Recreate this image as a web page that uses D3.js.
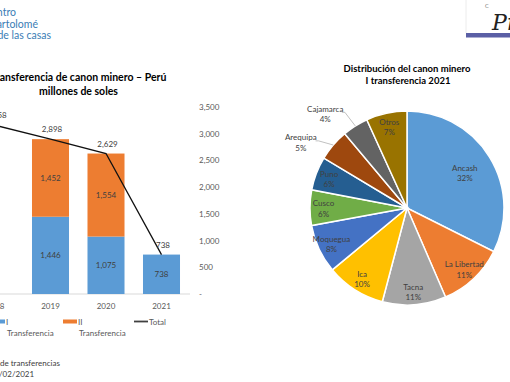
<!DOCTYPE html>
<html><head><meta charset="utf-8">
<script src="https://cdn.jsdelivr.net/npm/d3@7"></script>
<style>
html,body{margin:0;padding:0;background:#fff;}
svg{display:block;font-family:Lato,"Open Sans",sans-serif;}
</style></head>
<body>
<svg id="c" width="510" height="382"></svg>
<script>
// ---- data ----
const years = ["2018","2019","2020","2021"];
const transferI = [null, 1446, 1075, 738];
const transferII = [null, 1452, 1554, null];
const totals = [3158, 2898, 2629, 738];
const yTicks = [0,500,1000,1500,2000,2500,3000,3500];
const legendLabels = ["I\nTransferencia","II\nTransferencia","Total"];

const regions = ["Ancash","La Libertad","Tacna","Ica","Moquegua","Cusco","Puno","Arequipa","Cajamarca","Otros"];
const shares = [32.4, 11.1, 10.6, 9.9, 8.1, 5.9, 5.6, 5.3, 4.3, 6.8];
const regionColors = ["#5B9BD5","#ED7D31","#A5A5A5","#FFC000","#4472C4","#70AD47","#255E91","#9E480E","#636363","#997300"];
const outsideLabels = ["Arequipa","Cajamarca"];

const svg = d3.select("#c");
const txt = "#404040";

// ---- logos ----
const logo = svg.append("g").attr("fill","#3a7db5").attr("font-size",10.5).attr("text-anchor","end");
[["Centro",16,16],["Bartolomé",38,27.5],["de las casas",51,39]].forEach(([t,x,y])=>{
  logo.append("text").attr("x",x).attr("y",y).text(t);
});
svg.append("line").attr("x1",466).attr("x2",466).attr("y1",0).attr("y2",33).attr("stroke","#ececec");
svg.append("rect").attr("x",466).attr("y",33).attr("width",44).attr("height",4.5).attr("fill","#5a5fa5");
svg.append("text").attr("x",492).attr("y",30).attr("font-family","DejaVu Serif, serif").attr("font-style","italic")
  .attr("font-size",22).attr("fill","#222").text("Pr");
svg.append("text").attr("x",485).attr("y",8).attr("font-size",5.5).attr("fill","#777").text("C");

// ---- left chart ----
const left = svg.append("g");
left.append("text").attr("x",78.5).attr("y",81).attr("text-anchor","middle").attr("font-weight","bold")
  .attr("font-size",10.5).attr("fill","#000").text("Transferencia de canon minero – Perú");
left.append("text").attr("x",78.5).attr("y",95).attr("text-anchor","middle").attr("font-weight","bold")
  .attr("font-size",10.5).attr("fill","#000").text("millones de soles");

const x = d3.scaleBand().domain(years).range([-32.75,189.25]).paddingInner(0.333).paddingOuter(0.1665);
const y = d3.scaleLinear().domain([0,3500]).range([294,107]);

// axis baseline
left.append("line").attr("x1",0).attr("x2",190).attr("y1",y(0)).attr("y2",y(0)).attr("stroke","#d9d9d9");

// right value axis
const yAxis = d3.axisRight(y).tickValues(yTicks).tickSize(0).tickPadding(0)
  .tickFormat(v=> v===0 ? "-" : d3.format(",")(v));
const ya = left.append("g").attr("transform","translate(199,0)").call(yAxis);
ya.select(".domain").remove();
ya.selectAll("text").attr("font-family","Lato").attr("font-size",8).attr("fill","#595959");

// x axis labels
const xa = left.append("g").attr("transform",`translate(0,${y(0)})`)
  .call(d3.axisBottom(x).tickSize(0).tickPadding(9));
xa.select(".domain").remove();
xa.selectAll("text").attr("font-family","Lato").attr("font-size",8).attr("fill","#595959");

const rows = years.map((yr,i)=>({yr, a: transferI[i], b: transferII[i], t: totals[i]}));
// bars I
left.selectAll("rect.b1").data(rows.filter(d=>d.a!=null)).join("rect").attr("class","b1")
  .attr("x",d=>x(d.yr)).attr("width",x.bandwidth())
  .attr("y",d=>y(d.a)).attr("height",d=>y(0)-y(d.a)).attr("fill","#5B9BD5");
// bars II
left.selectAll("rect.b2").data(rows.filter(d=>d.a!=null && d.b!=null)).join("rect").attr("class","b2")
  .attr("x",d=>x(d.yr)).attr("width",x.bandwidth())
  .attr("y",d=>y(d.a+d.b)).attr("height",d=>y(d.a)-y(d.a+d.b)).attr("fill","#ED7D31");
// labels in bars
const fmt = d3.format(",");
left.selectAll("text.l1").data(rows.filter(d=>d.a!=null)).join("text").attr("class","l1")
  .attr("x",d=>x(d.yr)+x.bandwidth()/2).attr("y",d=>(y(0)+y(d.a))/2+3)
  .attr("text-anchor","middle").attr("font-size",8).attr("fill",txt).text(d=>fmt(d.a));
left.selectAll("text.l2").data(rows.filter(d=>d.a!=null && d.b!=null)).join("text").attr("class","l2")
  .attr("x",d=>x(d.yr)+x.bandwidth()/2).attr("y",d=>(y(d.a)+y(d.a+d.b))/2+3)
  .attr("text-anchor","middle").attr("font-size",8).attr("fill",txt).text(d=>fmt(d.b));
// total line
const cx = d=>x(d.yr)+x.bandwidth()/2;
left.append("path").datum(rows).attr("fill","none").attr("stroke","#111").attr("stroke-width",1.3)
  .attr("d",d3.line().x(cx).y(d=>y(d.t)));
left.selectAll("text.lt").data(rows).join("text").attr("class","lt")
  .attr("x",d=>cx(d)+1.5).attr("y",d=>y(d.t)-7)
  .attr("text-anchor","middle").attr("font-size",8).attr("fill",txt).text(d=>fmt(d.t));

// legend
const lg = left.append("g").attr("font-size",8).attr("fill","#595959");
const legItems = [{x:-9, col:"#5B9BD5", type:"rect"},{x:63, col:"#ED7D31", type:"rect"},{x:134, col:"#404040", type:"line"}];
legItems.forEach((it,i)=>{
  if(it.type==="rect") lg.append("rect").attr("x",it.x).attr("y",319.5).attr("width",14).attr("height",4).attr("fill",it.col);
  else lg.append("line").attr("x1",it.x).attr("x2",it.x+14).attr("y1",321.5).attr("y2",321.5).attr("stroke",it.col).attr("stroke-width",1.8);
  const lines = legendLabels[i].split("\n");
  const t = lg.append("text").attr("x",it.x+15).attr("y",324.5);
  t.text(lines[0]);
  if(lines[1]) lg.append("text").attr("x",it.x+16).attr("y",336).text(lines[1]);
});

// footer
svg.append("text").attr("x",0).attr("y",366).attr("font-size",8).attr("fill","#404040").text("de transferencias");
svg.append("text").attr("x",-1).attr("y",377).attr("font-size",8).attr("fill","#404040").text("/02/2021");

// ---- pie ----
const pg = svg.append("g");
pg.append("text").attr("x",407).attr("y",72).attr("text-anchor","middle").attr("font-weight","bold")
  .attr("font-size",9.5).attr("fill","#000").text("Distribución del canon minero");
pg.append("text").attr("x",408).attr("y",84).attr("text-anchor","middle").attr("font-weight","bold")
  .attr("font-size",9.5).attr("fill","#000").text("I transferencia 2021");

const R = 97, pcx = 407, pcy = 208;
const pieData = d3.pie().sort(null).value(d=>d.v)(regions.map((r,i)=>({r, v: shares[i], c: regionColors[i]})));
const arc = d3.arc().innerRadius(0).outerRadius(R);
const pie = pg.append("g").attr("transform",`translate(${pcx},${pcy})`);
pie.selectAll("path").data(pieData).join("path").attr("d",arc)
  .attr("fill",d=>d.data.c).attr("stroke","#fff").attr("stroke-width",1.5);

const polar = (r,a)=>[r*Math.sin(a), -r*Math.cos(a)];
pieData.forEach(d=>{
  const mid = (d.startAngle+d.endAngle)/2;
  const outside = outsideLabels.includes(d.data.r);
  let p;
  if(outside){
    p = polar(1.29*R, mid - 0.15);
    const e = polar(R, mid);
    const w = d.data.r.length*3.7;
    const q = [p[0]+w/2+1, p[1]-1];
    pie.append("polyline").attr("points",[[q[0]-1,q[1]],[q[0]+2,q[1]],e].map(v=>v.join(",")).join(" "))
      .attr("fill","none").attr("stroke","#a6a6a6").attr("stroke-width",0.7);
  } else {
    p = polar(d.data.v>20 ? 0.7*R : 0.86*R, mid);
  }
  pie.append("text").attr("x",p[0]).attr("y",p[1]-1.5).attr("text-anchor","middle")
    .attr("font-size",8).attr("fill",txt).text(d.data.r);
  pie.append("text").attr("x",p[0]).attr("y",p[1]+9).attr("text-anchor","middle")
    .attr("font-size",8).attr("fill",txt).text(Math.round(d.data.v)+"%");
});
</script>
</body></html>
